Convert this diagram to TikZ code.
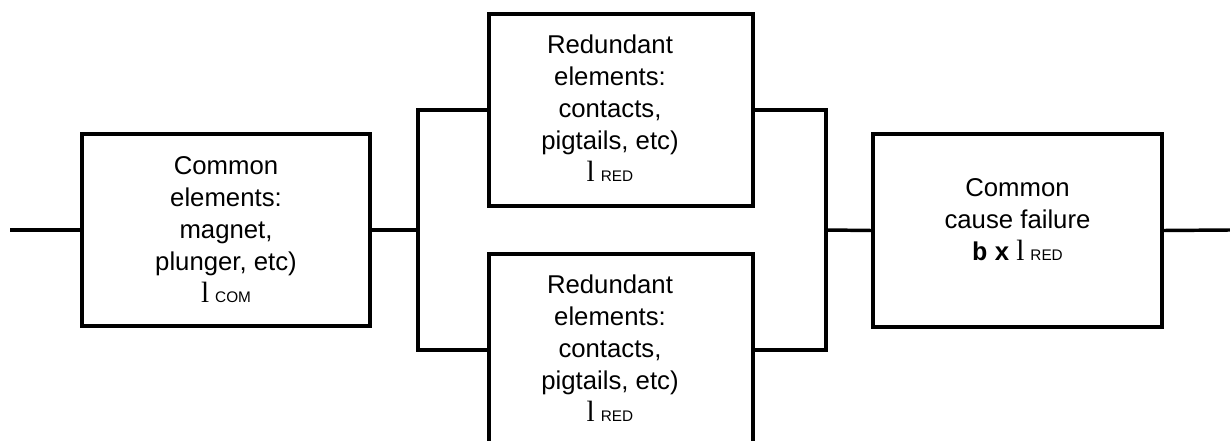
\documentclass[tikz,border=0pt]{standalone}
\usepackage{fontspec}
\setmainfont{Liberation Sans}
\newfontfamily\lamfont{Liberation Serif}
\newfontfamily\betafont{Liberation Mono}[BoldFont={Liberation Mono Bold}]
\usetikzlibrary{positioning}

\newcommand{\lamsub}[1]{{\lamfont\fontsize{22}{24}\selectfont l}\hspace{4.5pt}{\fontsize{11.5}{12}\selectfont #1}}

\begin{document}
\begin{tikzpicture}[x=0.75pt,y=-0.75pt,
  block/.style={draw,line width=2.6pt,minimum height=144pt,inner sep=0pt},
  blocktext/.style={anchor=north,align=center,inner sep=0pt,font=\fontsize{19.3}{24}\selectfont},
  wire/.style={line width=2.6pt}]

\useasboundingbox (0,0) rectangle (1230,441);
\clip (0,0) rectangle (1230,441);

% boxes
\node [block,minimum width=216pt] (com) at (226,230) {};
\node [block,minimum width=198pt] (redtop) at (621,110) {};
\node [block,minimum width=198pt] (redbot) at (621,350) {};
\node [block,minimum width=216.75pt,minimum height=144.75pt] (ccf) at (1017.5,230.5) {};

\node [blocktext] (comtext) at (226,156) {Common\\elements:\\magnet,\\plunger, etc)\\\lamsub{COM}};
\node [blocktext] (redtoptext) at (610,35) {Redundant\\elements:\\contacts,\\pigtails, etc)\\\lamsub{RED}};
\node [blocktext] (redbottext) at (610,275) {Redundant\\elements:\\contacts,\\pigtails, etc)\\\lamsub{RED}};
\node [blocktext] (ccftext) at (1017.5,178) {Common\\cause failure\\{\betafont\bfseries b} {\bfseries x} \lamsub{RED}};

% wiring
\coordinate (in) at (10,230);
\coordinate (busL) at (418,230);
\coordinate (busR) at (826,230);
\coordinate (out) at (1230,230);

\draw [wire] (in) -- (com.west);
\draw [wire] (com.east) -- (busL);
\draw [wire] (redtop.west) -| (busL) |- (redbot.west);
\draw [wire] (redtop.east) -| (busR) |- (redbot.east);
\draw [wire] (busR) -- (ccf.west);
\draw [wire] (ccf.east) -- (out);

\end{tikzpicture}
\end{document}
